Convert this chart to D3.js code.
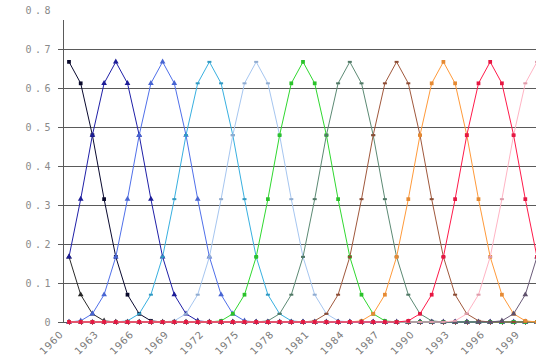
<!DOCTYPE html>
<html>
<head>
<meta charset="utf-8">
<script src="https://cdn.jsdelivr.net/npm/d3@7"></script>
<style>
  body { margin: 0; background: #fff; }
  svg { display: block; }
  .grid line { stroke: #5a5a5a; stroke-width: 1px; shape-rendering: crispEdges; }
  .ylab { font: 10px "DejaVu Sans Mono", monospace; fill: #8a8a8a; letter-spacing: 3.5px; }
  .xlab { font: 10px "DejaVu Sans", sans-serif; fill: #7a7a7a; letter-spacing: 0.8px; }
  .line { fill: none; stroke-width: 1px; }
</style>
</head>
<body>
<svg id="chart"></svg>
<script>
// years on the x axis (one point per year)
const years = [
  1960, 1961, 1962, 1963, 1964, 1965, 1966, 1967, 1968, 1969,
  1970, 1971, 1972, 1973, 1974, 1975, 1976, 1977, 1978, 1979,
  1980, 1981, 1982, 1983, 1984, 1985, 1986, 1987, 1988, 1989,
  1990, 1991, 1992, 1993, 1994, 1995, 1996, 1997, 1998, 1999,
  2000,
];

// labelled years and y tick values
const xTickYears = [1960, 1963, 1966, 1969, 1972, 1975, 1978, 1981, 1984, 1987, 1990, 1993, 1996, 1999];
const yTicks = [0, 0.1, 0.2, 0.3, 0.4, 0.5, 0.6, 0.7, 0.8];
const yTickLabels = ["0", "0.1", "0.2", "0.3", "0.4", "0.5", "0.6", "0.7", "0.8"];

// one array per curve, values per year (1960s / 70s / 80s / 90s / 2000)
const s1956 = [
  .167, .070, .021, .003, 0, 0, 0, 0, 0, 0,
  0, 0, 0, 0, 0, 0, 0, 0, 0, 0,
  0, 0, 0, 0, 0, 0, 0, 0, 0, 0,
  0, 0, 0, 0, 0, 0, 0, 0, 0, 0,
  0,
];
const s1960 = [
  .667, .612, .479, .315, .167, .070, .021, .003, 0, 0,
  0, 0, 0, 0, 0, 0, 0, 0, 0, 0,
  0, 0, 0, 0, 0, 0, 0, 0, 0, 0,
  0, 0, 0, 0, 0, 0, 0, 0, 0, 0,
  0,
];
const s1964 = [
  .167, .315, .479, .612, .667, .612, .479, .315, .167, .070,
  .021, .003, 0, 0, 0, 0, 0, 0, 0, 0,
  0, 0, 0, 0, 0, 0, 0, 0, 0, 0,
  0, 0, 0, 0, 0, 0, 0, 0, 0, 0,
  0,
];
const s1968 = [
  0, .003, .021, .070, .167, .315, .479, .612, .667, .612,
  .479, .315, .167, .070, .021, .003, 0, 0, 0, 0,
  0, 0, 0, 0, 0, 0, 0, 0, 0, 0,
  0, 0, 0, 0, 0, 0, 0, 0, 0, 0,
  0,
];
const s1972 = [
  0, 0, 0, 0, 0, .003, .021, .070, .167, .315,
  .479, .612, .667, .612, .479, .315, .167, .070, .021, .003,
  0, 0, 0, 0, 0, 0, 0, 0, 0, 0,
  0, 0, 0, 0, 0, 0, 0, 0, 0, 0,
  0,
];
const s1976 = [
  0, 0, 0, 0, 0, 0, 0, 0, 0, .003,
  .021, .070, .167, .315, .479, .612, .667, .612, .479, .315,
  .167, .070, .021, .003, 0, 0, 0, 0, 0, 0,
  0, 0, 0, 0, 0, 0, 0, 0, 0, 0,
  0,
];
const s1980 = [
  0, 0, 0, 0, 0, 0, 0, 0, 0, 0,
  0, 0, 0, .003, .021, .070, .167, .315, .479, .612,
  .667, .612, .479, .315, .167, .070, .021, .003, 0, 0,
  0, 0, 0, 0, 0, 0, 0, 0, 0, 0,
  0,
];
const s1984 = [
  0, 0, 0, 0, 0, 0, 0, 0, 0, 0,
  0, 0, 0, 0, 0, 0, 0, .003, .021, .070,
  .167, .315, .479, .612, .667, .612, .479, .315, .167, .070,
  .021, .003, 0, 0, 0, 0, 0, 0, 0, 0,
  0,
];
const s1988 = [
  0, 0, 0, 0, 0, 0, 0, 0, 0, 0,
  0, 0, 0, 0, 0, 0, 0, 0, 0, 0,
  0, .003, .021, .070, .167, .315, .479, .612, .667, .612,
  .479, .315, .167, .070, .021, .003, 0, 0, 0, 0,
  0,
];
const s1992 = [
  0, 0, 0, 0, 0, 0, 0, 0, 0, 0,
  0, 0, 0, 0, 0, 0, 0, 0, 0, 0,
  0, 0, 0, 0, 0, .003, .021, .070, .167, .315,
  .479, .612, .667, .612, .479, .315, .167, .070, .021, .003,
  0,
];
const s1996 = [
  0, 0, 0, 0, 0, 0, 0, 0, 0, 0,
  0, 0, 0, 0, 0, 0, 0, 0, 0, 0,
  0, 0, 0, 0, 0, 0, 0, 0, 0, .003,
  .021, .070, .167, .315, .479, .612, .667, .612, .479, .315,
  .167,
];
const s2000 = [
  0, 0, 0, 0, 0, 0, 0, 0, 0, 0,
  0, 0, 0, 0, 0, 0, 0, 0, 0, 0,
  0, 0, 0, 0, 0, 0, 0, 0, 0, 0,
  0, 0, 0, .003, .021, .070, .167, .315, .479, .612,
  .667,
];
const s2004 = [
  0, 0, 0, 0, 0, 0, 0, 0, 0, 0,
  0, 0, 0, 0, 0, 0, 0, 0, 0, 0,
  0, 0, 0, 0, 0, 0, 0, 0, 0, 0,
  0, 0, 0, 0, 0, 0, 0, .003, .021, .070,
  .167,
];

const seriesValues = [s1956, s1960, s1964, s1968, s1972, s1976, s1980, s1984, s1988, s1992, s2004, s2000, s1996];
const seriesColors = [
  "#2a2a2a", "#0a0a30", "#2020a8", "#5070ea", "#38b0e0", "#a6c6f0", "#30d830",
  "#5c8a74", "#a0583c", "#ff9a3a", "#6a5a78", "#ffb4c4", "#ff1a4a",
];
const seriesMarkers = [
  "triangle", "square", "triangle", "triangle", "dash", "dash", "square",
  "dash", "dash", "square", "triangle", "dash", "square",
];

const width = 536;
const height = 356;

const svg = d3.select("#chart").attr("width", width).attr("height", height);

// scales
const x = d3.scaleLinear().domain([1960, 2000]).range([69, 537]);
const y = d3.scaleLinear().domain([0, 0.8]).range([322, 10]);

// horizontal grid lines (with short tick stubs left of the axis)
svg.append("g")
  .attr("class", "grid")
  .selectAll("line")
  .data(yTicks.filter((d) => d < 0.8))
  .enter()
  .append("line")
  .attr("x1", 58)
  .attr("x2", width)
  .attr("y1", (d) => Math.round(y(d)) + 0.5)
  .attr("y2", (d) => Math.round(y(d)) + 0.5);

// vertical axis line
svg.append("line")
  .attr("x1", 63.5).attr("x2", 63.5)
  .attr("y1", 20).attr("y2", y(0))
  .attr("stroke", "#5a5a5a")
  .attr("shape-rendering", "crispEdges");

// y labels
svg.append("g")
  .selectAll("text")
  .data(yTicks)
  .enter()
  .append("text")
  .attr("class", "ylab")
  .attr("x", 54)
  .attr("y", (d) => y(d) + 4)
  .attr("text-anchor", "end")
  .text((d, i) => yTickLabels[i]);

// small year ticks under the zero line
svg.append("g")
  .selectAll("line")
  .data(years)
  .enter()
  .append("line")
  .attr("x1", (d) => Math.round(x(d)) + 0.5)
  .attr("x2", (d) => Math.round(x(d)) + 0.5)
  .attr("y1", y(0))
  .attr("y2", y(0) + 3)
  .attr("stroke", "#b05060");

// rotated x labels
svg.append("g")
  .selectAll("text")
  .data(xTickYears)
  .enter()
  .append("text")
  .attr("class", "xlab")
  .attr("text-anchor", "end")
  .attr("transform", (d) => `translate(${x(d) - 5},${y(0) + 13}) rotate(-45)`)
  .text((d) => d);

// curves
const line = d3.line()
  .x((d, i) => x(years[i]))
  .y((d) => y(d));

const symbolFor = {
  square: d3.symbol().type(d3.symbolSquare).size(14),
  triangle: d3.symbol().type(d3.symbolTriangle).size(14),
};

seriesValues.forEach((vals, si) => {
  const color = seriesColors[si];
  svg.append("path")
    .datum(vals)
    .attr("class", "line")
    .attr("stroke", color)
    .attr("d", line);

  const marks = svg.append("g")
    .selectAll("g")
    .data(vals)
    .enter()
    .append("g")
    .attr("transform", (d, i) => `translate(${x(years[i])},${y(d)})`);

  const kind = seriesMarkers[si];
  if (kind === "dash") {
    marks.append("rect")
      .attr("x", -2).attr("y", -1)
      .attr("width", 4).attr("height", 2)
      .attr("fill", d3.color(color).darker(0.4));
  } else {
    marks.append("path")
      .attr("d", symbolFor[kind])
      .attr("fill", d3.color(color).darker(0.3));
  }
});
</script>
</body>
</html>
